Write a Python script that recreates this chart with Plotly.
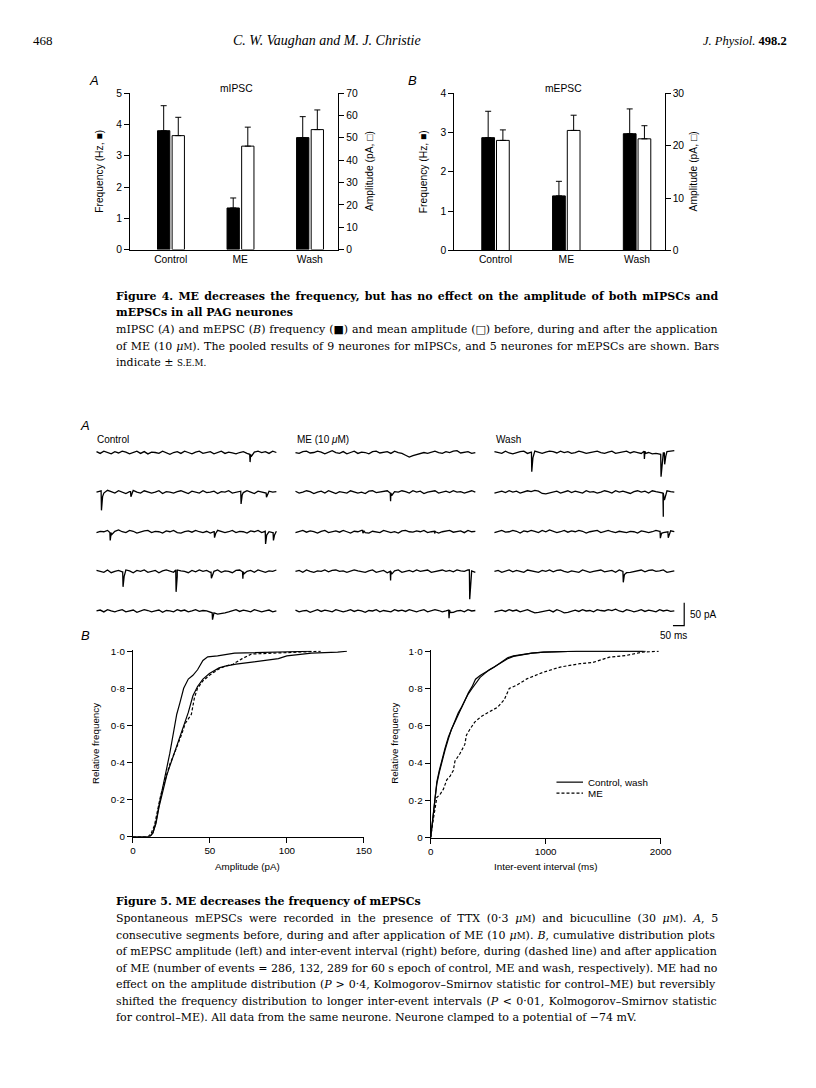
import plotly.graph_objects as go

W, H = 816, 1088
PAGE_MARGIN = 8   # default body margin of the html page

# ---- Figure 4 data ----
conditions = ["Control", "ME", "Wash"]
mipsc_freq = [3.80, 1.33, 3.58]
mipsc_freq_sem = [0.80, 0.32, 0.67]
mipsc_amp = [51.0, 46.3, 53.7]
mipsc_amp_sem = [8.2, 8.5, 8.8]
mepsc_freq = [2.87, 1.39, 2.97]
mepsc_freq_sem = [0.67, 0.37, 0.63]
mepsc_amp = [21.0, 22.9, 21.3]
mepsc_amp_sem = [2.0, 2.9, 2.5]

# ---- Figure 5A traces: baseline noise (pA), 50 samples per 800 ms segment ----
SEG_MS = 800
noise_control = [
    [2, -2, 3, 0, -3, 2, -1, 3, 1, -3, 0, 3, -2, 2, -3, 1, 0, -2, 3, -1, -4, 0, 2, -2, 3, 0, -3, 1, 3, -2, 0, 2, -3, 0, 3, -2, 1, -1, -3, 0, 2, -2, -4, 1, 3, 0, 2, -2, 3, 0],
    [0, 3, -2, 4, 1, -2, 3, 0, -3, 1, 4, 0, -2, 3, 1, -2, 0, 3, -3, 1, 0, -2, 1, 3, 0, -3, 2, 0, -2, 3, -1, 0, 2, -3, 1, 0, 3, -2, 0, 2, -1, 3, 0, -3, 2, 0, -2, 2, 0, 1],
    [-2, 1, 0, 3, -2, 1, 4, 0, -2, 3, 1, -3, 0, 2, 3, -2, 1, 0, -3, 2, 0, 3, -2, -3, 0, 2, -1, 3, 0, -2, 1, -3, 0, 3, 1, -2, 0, 3, -2, 1, 0, -3, 2, 0, 3, -2, 1, 0, -2, 1],
    [2, 0, -2, 3, -3, 0, 2, -1, 3, 1, -3, 2, 0, 3, -2, 0, 2, -3, 1, 3, 0, -2, 3, 1, 0, -3, 2, -1, 3, 0, 2, -2, 0, 3, -2, 1, 0, -3, 2, 3, -1, 0, 2, -2, 3, 0, -2, 1, 0, 3],
    [0, 2, -2, 3, 0, -2, 1, 3, -2, 0, 2, -3, 0, 3, 1, -2, 0, 2, -3, 1, 0, -2, 3, 0, 2, -2, 0, 3, -1, 1, 0, -3, -4, -7, -6, -4, -2, 0, 3, -1, 2, 0, -2, 3, 1, -2, 0, 2, -2, 0],
]
noise_me = [
    [0, -2, 2, 3, -1, 0, 3, 1, -3, 1, 4, 0, -2, 2, -3, 0, 3, -2, 1, 0, -3, 2, 3, -1, 0, 2, -2, 3, 0, -2, -6, -10, -7, -5, -3, 0, -2, 1, 3, 0, -2, 2, 0, 3, 4, -1, 0, 2, -2, 0],
    [2, -2, 0, 3, 1, -3, 0, 2, -2, 3, 0, -3, 1, 0, -2, 3, 1, -2, 0, -3, 2, 3, -1, 0, 2, 3, -2, 1, 0, 3, 1, -2, 3, 0, 2, -3, 0, 1, 3, -2, 0, 2, -1, 3, 0, 1, -2, 0, 3, 0],
    [-2, 0, 3, -1, 2, 0, -3, 1, 3, -2, 0, 2, -1, 3, 0, -3, 1, 0, 3, -2, -3, 1, 0, -2, 3, 1, -2, 0, -3, 2, 3, 0, -1, 2, 0, 3, -2, 0, 1, -3, 0, 2, 3, -1, 0, 2, -2, 3, 0, 1],
    [0, 2, -2, 3, 0, -2, 1, 0, 3, -1, 2, 3, 0, 1, -2, 0, 3, 1, 0, -2, 1, 3, -2, 0, 2, -3, 0, 1, 3, -2, 0, 2, -1, 3, 0, 1, 3, -2, 0, 1, 3, 0, 2, -1, 3, 1, 0, 3, 1, -2],
    [2, -2, 0, 1, -3, 0, 3, -1, 2, 0, -2, 3, 1, -2, 0, 3, -1, 2, 0, -3, 1, 0, 3, -2, 1, 0, -2, 3, 0, 2, -1, 3, 0, -2, 1, 3, -2, 0, 3, 1, -2, 0, 2, -3, 0, 1, -2, 3, 0, 1],
]
noise_wash = [
    [2, 0, -2, 3, -1, -3, 0, 2, 3, -2, 1, 3, 0, -2, 1, 3, 2, -1, 3, 0, 2, -2, 0, 3, 1, -2, 0, 2, 3, 0, -2, 1, 3, -2, 0, 2, 3, -1, 2, 0, -2, 3, 0, -3, -2, -4, -1, 2, 3, 4],
    [-2, 0, 2, -1, 3, 0, 2, -2, 0, 3, 1, 4, 2, -3, -4, -2, 0, 2, -2, 0, 3, -1, 2, 0, -2, 3, 0, 1, -2, 0, 3, 1, -2, 3, 0, 2, -1, -3, 1, 3, 0, 2, -2, 3, 1, 0, -2, 3, 1, 0],
    [-2, 1, 3, -1, 0, 3, 1, -3, 2, 0, 3, 1, -2, 3, 0, 4, 1, -2, 0, 3, -1, 2, 0, 3, 1, -3, 0, 2, 3, -2, 1, 3, 0, -2, 1, 0, -2, 1, 0, -3, 2, 0, -2, 0, 3, 1, -2, 0, 2, 0],
    [0, 2, -2, 0, 3, -1, 2, 0, -2, 3, 1, 0, -2, 2, 0, 3, -1, 2, 3, 0, -2, 1, 0, -2, 3, 1, -2, 0, 2, 3, -1, 0, 2, -2, 3, 0, -3, -2, 0, 1, 3, -1, 2, 3, 0, 1, 3, -2, 0, 1],
    [-2, 0, 2, -1, 3, 0, 2, -2, 0, 3, -1, -4, -3, -1, 0, 2, -2, 3, 0, -4, -3, 0, 2, -1, 3, 0, 1, -2, 3, 1, 0, 3, 1, 4, 0, -2, 3, 1, -2, 0, 3, -1, 2, 0, -2, 3, 0, 2, -1, 0],
]
# events per row: (time in ms, amplitude in pA)
events_control = [
    [(683, 17)],
    [(22, 43), (153, 11), (643, 28), (756, 9)],
    [(61, 17), (525, 13), (752, 28), (787, 17)],
    [(118, 33), (354, 48), (511, 13), (651, 15)],
    [(516, 15)],
]
events_me = [
    [],
    [(423, 18)],
    [(300, 6), (620, 5)],
    [(423, 20), (775, 64)],
    [(683, 18)],
]
events_wash = [
    [(166, 43), (667, 17), (741, 49), (757, 25)],
    [(751, 52)],
    [(738, 15), (773, 13)],
    [(573, 24)],
    [],
]
segment_labels = ["Control", "ME (10 <i>μ</i>M)", "Wash"]
scale_ms, scale_pa = 50, 50

# ---- Figure 5B cumulative distributions ----
amp_control_x = [0, 11, 13, 15, 17, 19.8, 22, 24, 25.5, 27, 28.5, 30.5, 33, 36, 39, 42, 45.5, 48.6, 55, 66, 84, 116]
amp_control_y = [0, 0, 0.02, 0.08, 0.17, 0.28, 0.36, 0.45, 0.52, 0.6, 0.66, 0.72, 0.8, 0.85, 0.87, 0.9, 0.95, 0.97, 0.975, 0.99, 0.995, 1.0]
amp_wash_x = [0, 11, 13, 15, 17, 20, 22, 24, 27, 29.5, 31.6, 34, 36, 39, 42, 45.5, 49.7, 56, 60, 67, 77, 86, 94.5, 100, 116, 133, 139]
amp_wash_y = [0, 0, 0.02, 0.07, 0.16, 0.27, 0.33, 0.38, 0.45, 0.51, 0.56, 0.62, 0.67, 0.76, 0.81, 0.85, 0.88, 0.91, 0.92, 0.93, 0.94, 0.95, 0.96, 0.975, 0.99, 0.995, 1.0]
amp_me_x = [0, 10, 12, 14, 16, 18, 20, 22, 24, 27, 29.5, 31.6, 34, 37, 38, 40, 42, 45.5, 49.7, 56, 60, 65, 71, 77, 90, 105, 122]
amp_me_y = [0, 0, 0.02, 0.06, 0.14, 0.22, 0.28, 0.34, 0.39, 0.45, 0.5, 0.55, 0.61, 0.65, 0.66, 0.75, 0.8, 0.84, 0.87, 0.905, 0.92, 0.93, 0.96, 0.985, 0.99, 0.995, 1.0]

int_control_x = [0, 15, 26, 40, 54, 75, 97, 125, 154, 180, 211, 240, 269, 300, 326, 360, 397, 430, 469, 510, 554, 610, 669, 720, 783, 880, 983, 1100, 1269, 1600, 1869]
int_control_y = [0, 0.08, 0.15, 0.23, 0.3, 0.36, 0.42, 0.48, 0.54, 0.58, 0.63, 0.67, 0.7, 0.74, 0.77, 0.8, 0.83, 0.86, 0.88, 0.9, 0.915, 0.94, 0.965, 0.975, 0.982, 0.99, 0.995, 0.997, 1.0, 1.0, 1.0]
int_wash_x = [0, 15, 26, 40, 54, 75, 97, 125, 154, 180, 211, 240, 269, 300, 330, 360, 390, 430, 469, 510, 554, 610, 669, 720, 783, 880, 983, 1100, 1269, 1500, 1850]
int_wash_y = [0, 0.07, 0.14, 0.22, 0.29, 0.35, 0.41, 0.47, 0.53, 0.58, 0.62, 0.66, 0.7, 0.74, 0.78, 0.81, 0.85, 0.87, 0.885, 0.9, 0.915, 0.935, 0.96, 0.972, 0.98, 0.99, 0.995, 0.998, 1.0, 1.0, 1.0]
int_me_x = [0, 12, 26, 54, 80, 111, 140, 169, 197, 211, 254, 297, 311, 340, 383, 440, 497, 583, 640, 683, 754, 840, 983, 1126, 1297, 1411, 1554, 1697, 1840, 1983]
int_me_y = [0, 0.06, 0.11, 0.216, 0.23, 0.26, 0.31, 0.33, 0.36, 0.41, 0.45, 0.5, 0.55, 0.58, 0.62, 0.65, 0.67, 0.7, 0.74, 0.8, 0.82, 0.853, 0.888, 0.915, 0.933, 0.94, 0.968, 0.977, 0.995, 1.0]

SANS = "Liberation Sans, Arial, sans-serif"
SERIF = "Liberation Serif, Times New Roman, serif"
CAPTION = "DejaVu Serif, serif"
CAP_SIZE = 11.0


def px_x(x):
    return (x - PAGE_MARGIN) / W


def px_y(y):
    return 1 - (y - PAGE_MARGIN) / H


def spread(text, px):
    # widen word gaps so a caption line runs to the right margin, like the justified print
    return "<span style='word-spacing:%spx'>%s</span>" % (px, text)


fig = go.Figure()

# ---- Figure 4 bars ----
def add_bars(xa, ya_left, ya_right, freq, freq_sem, amp, amp_sem, off_b, off_w, width):
    fig.add_trace(go.Bar(
        x=[0, 1, 2], y=freq, width=width, offset=off_b, xaxis=xa, yaxis=ya_left,
        marker=dict(color="black", line=dict(color="black", width=1)),
        error_y=dict(type="data", symmetric=False, array=freq_sem, arrayminus=[0, 0, 0],
                     color="black", thickness=1, width=3),
        showlegend=False))
    fig.add_trace(go.Bar(
        x=[0, 1, 2], y=amp, width=width, offset=off_w, xaxis=xa, yaxis=ya_right,
        marker=dict(color="white", line=dict(color="black", width=1)),
        error_y=dict(type="data", symmetric=False, array=amp_sem, arrayminus=[0, 0, 0],
                     color="black", thickness=1, width=3),
        showlegend=False))


add_bars("x", "y", "y2", mipsc_freq, mipsc_freq_sem, mipsc_amp, mipsc_amp_sem, -0.19, 0.02, 0.177)
add_bars("x2", "y3", "y4", mepsc_freq, mepsc_freq_sem, mepsc_amp, mepsc_amp_sem, -0.194, 0.014, 0.18)

# ---- Figure 5A traces ----
ROW_STEP = 87     # pA between rows
COL_STEP = 885    # ms between columns
for col, (noise_rows, event_rows) in enumerate([(noise_control, events_control),
                                                 (noise_me, events_me),
                                                 (noise_wash, events_wash)]):
    for row, (noise, events) in enumerate(zip(noise_rows, event_rows)):
        n = len(noise)
        t = [i * SEG_MS / (n - 1) for i in range(n)]
        pts = list(zip(t, noise))
        for t0, depth in events:
            base = noise[min(range(n), key=lambda i: abs(t[i] - t0))]
            pts += [(t0 - 1.5, base), (t0, base - depth), (t0 + 5, base - depth * 0.3)]
        pts.sort()
        fig.add_trace(go.Scatter(
            x=[col * COL_STEP + p[0] for p in pts],
            y=[-row * ROW_STEP + p[1] for p in pts],
            mode="lines", line=dict(color="black", width=1.3),
            xaxis="x3", yaxis="y5", showlegend=False, hoverinfo="skip"))

# scale bar
bar_x = 2 * COL_STEP + SEG_MS + 44
bar_y = -4 * ROW_STEP - 32
fig.add_trace(go.Scatter(
    x=[bar_x - scale_ms, bar_x, bar_x], y=[bar_y, bar_y, bar_y + scale_pa],
    mode="lines", line=dict(color="black", width=1.2),
    xaxis="x3", yaxis="y5", showlegend=False, hoverinfo="skip"))

# ---- Figure 5B curves ----
def add_curve(x, y, xa, ya, dash):
    fig.add_trace(go.Scatter(x=x, y=y, mode="lines", xaxis=xa, yaxis=ya,
                             line=dict(color="black", width=1.2, dash=dash),
                             showlegend=False, hoverinfo="skip"))


add_curve(amp_control_x, amp_control_y, "x4", "y6", "solid")
add_curve(amp_wash_x, amp_wash_y, "x4", "y6", "solid")
add_curve(amp_me_x, amp_me_y, "x4", "y6", "3px,2px")
add_curve(int_control_x, int_control_y, "x5", "y7", "solid")
add_curve(int_wash_x, int_wash_y, "x5", "y7", "solid")
add_curve(int_me_x, int_me_y, "x5", "y7", "3px,2px")

# ---- axes ----
axis_common = dict(showline=True, linecolor="black", linewidth=1, showgrid=False,
                   zeroline=False, ticks="outside", ticklen=5, tickwidth=1,
                   tickcolor="black", tickfont=dict(family=SANS, size=10.3, color="black"))
small_ticks = dict(family=SANS, size=9.8, color="black")
frac_ticks = ["0", "0·2", "0·4", "0·6", "0·8", "1·0"]


def cat_xaxis(domain, rng):
    return dict(domain=domain, range=rng, showline=True, linecolor="black", linewidth=1,
                showgrid=False, zeroline=False, ticks="", tickvals=[0, 1, 2],
                ticktext=conditions, tickfont=dict(family=SANS, size=10.3, color="black"))


fig.update_layout(
    width=W, height=H, autosize=False, margin=dict(l=0, r=0, t=0, b=0),
    paper_bgcolor="white", plot_bgcolor="rgba(0,0,0,0)", barmode="overlay",
    xaxis=cat_xaxis([px_x(129), px_x(341)], [-0.587, 2.41]),
    yaxis=dict(axis_common, domain=[px_y(247), px_y(89)], range=[0, 5], dtick=1, anchor="x"),
    yaxis2=dict(axis_common, range=[0, 70], dtick=10, overlaying="y", side="right", anchor="x"),
    xaxis2=cat_xaxis([px_x(459), px_x(673)], [-0.583, 2.389]),
    yaxis3=dict(axis_common, domain=[px_y(248), px_y(89)], range=[0, 4], dtick=1, anchor="x2"),
    yaxis4=dict(axis_common, range=[0, 30], dtick=10, overlaying="y3", side="right", anchor="x2"),
    xaxis3=dict(domain=[px_x(88), px_x(700)], range=[-30.6, 2644.8], visible=False),
    yaxis5=dict(domain=[px_y(640), px_y(440)], range=[-408.7, 26.1], visible=False, anchor="x3"),
    xaxis4=dict(axis_common, domain=[px_x(132), px_x(367)], range=[0, 150],
                tickvals=[0, 50, 100, 150], anchor="y6", tickfont=small_ticks),
    yaxis6=dict(axis_common, domain=[px_y(840), px_y(652)], range=[0, 1.004],
                tickvals=[0, 0.2, 0.4, 0.6, 0.8, 1.0], ticktext=frac_ticks,
                anchor="x4", tickfont=small_ticks),
    xaxis5=dict(axis_common, domain=[px_x(435), px_x(669)], range=[0, 2000],
                tickvals=[0, 1000, 2000], anchor="y7", tickfont=small_ticks),
    yaxis7=dict(axis_common, domain=[px_y(841), px_y(652)], range=[0, 1.004],
                tickvals=[0, 0.2, 0.4, 0.6, 0.8, 1.0], ticktext=frac_ticks,
                anchor="x5", tickfont=small_ticks),
)


# ---- text ----
def label(x, y, text, size=10, family=SANS, anchor="center", angle=0, color="black"):
    fig.add_annotation(x=px_x(x), y=px_y(y), xref="paper", yref="paper", text=text,
                       showarrow=False, xanchor=anchor, yanchor="middle", textangle=angle,
                       font=dict(family=family, size=size, color=color))


# page header
label(28, 36, "468", 13, SERIF, "left")
label(330, 36, "<i>C. W. Vaughan and M. J. Christie</i>", 14, SERIF)
label(800, 36, "<i>J. Physiol.</i> <b>498.2</b>", 12.5, SERIF, "right")

# figure 4 labels
label(92, 76, "<i>A</i>", 13)
label(416, 76, "<i>B</i>", 13)
label(237, 84, "mIPSC", 10.3)
label(570, 84, "mEPSC", 10.3)
label(98, 168, "Frequency (Hz, ■)", 10.3, angle=-90)
label(373, 168, "Amplitude (pA, □)", 10.3, angle=-90)
label(428, 168, "Frequency (Hz, ■)", 10.3, angle=-90)
label(702, 168, "Amplitude (pA, □)", 10.3, angle=-90)

sc = "<span style='font-size:8.7px'>"
fig4_title = [spread("Figure 4. ME decreases the frequency, but has no effect on the amplitude of both mIPSCs and", 1.4),
              "mEPSCs in all PAG neurones"]
fig4_body = [spread("mIPSC (<i>A</i>) and mEPSC (<i>B</i>) frequency (■) and mean amplitude (□) before, during and after the application", 0.4),
             spread("of ME (10 <i>μ</i>" + sc + "M</span>). The pooled results of 9 neurones for mIPSCs, and 5 neurones for mEPSCs are shown. Bars", 0.5),
             "indicate ± " + sc + "S.E.M.</span>"]
for i, line in enumerate(fig4_title):
    label(113, 294 + 16.5 * i, "<b>" + line + "</b>", CAP_SIZE, CAPTION, "left")
for i, line in enumerate(fig4_body):
    label(113, 328 + 16.5 * i, line, CAP_SIZE, CAPTION, "left")

# figure 5A labels
label(83, 425, "<i>A</i>", 13)
label(93, 439, segment_labels[0], 10, anchor="left")
label(297, 439, segment_labels[1], 10, anchor="left")
label(499, 439, segment_labels[2], 10, anchor="left")
label(697, 616, "50 pA", 10, anchor="left")
label(682, 637, "50 ms", 10)

# figure 5B labels
label(84, 637, "<i>B</i>", 13)
label(94, 746, "Relative frequency", 9.8, angle=-90)
label(398, 746, "Relative frequency", 9.8, angle=-90)
label(249, 870, "Amplitude (pA)", 9.8)
label(552, 870, "Inter-event interval (ms)", 9.8)
# legend
fig.add_shape(type="line", xref="paper", yref="paper", x0=px_x(563), x1=px_x(590),
              y0=px_y(785), y1=px_y(785), line=dict(color="black", width=1.2))
fig.add_shape(type="line", xref="paper", yref="paper", x0=px_x(563), x1=px_x(590),
              y0=px_y(796), y1=px_y(796), line=dict(color="black", width=1.2, dash="3px,2px"))
label(593, 785, "Control, wash", 9.8, anchor="left")
label(593, 796, "ME", 9.8, anchor="left")

fig5_body = [
    spread("Spontaneous mEPSCs were recorded in the presence of TTX (0·3 <i>μ</i>" + sc + "M</span>) and bicuculline (30 <i>μ</i>" + sc + "M</span>). <i>A</i>, 5", 3.2),
    spread("consecutive segments before, during and after application of ME (10 <i>μ</i>" + sc + "M</span>). <i>B</i>, cumulative distribution plots", 0.5),
    "of mEPSC amplitude (left) and inter-event interval (right) before, during (dashed line) and after application",
    "of ME (number of events = 286, 132, 289 for 60 s epoch of control, ME and wash, respectively). ME had no",
    spread("effect on the amplitude distribution (<i>P</i> &gt; 0·4, Kolmogorov–Smirnov statistic for control–ME) but reversibly", 0.4),
    spread("shifted the frequency distribution to longer inter-event intervals (<i>P</i> &lt; 0·01, Kolmogorov–Smirnov statistic", 1.0),
    "for control–ME). All data from the same neurone. Neurone clamped to a potential of −74 mV.",
]
label(113, 906, "<b>Figure 5. ME decreases the frequency of mEPSCs</b>", CAP_SIZE, CAPTION, "left")
for i, line in enumerate(fig5_body):
    label(113, 923 + 16.7 * i, line, CAP_SIZE, CAPTION, "left")

fig.write_html("out.html")
